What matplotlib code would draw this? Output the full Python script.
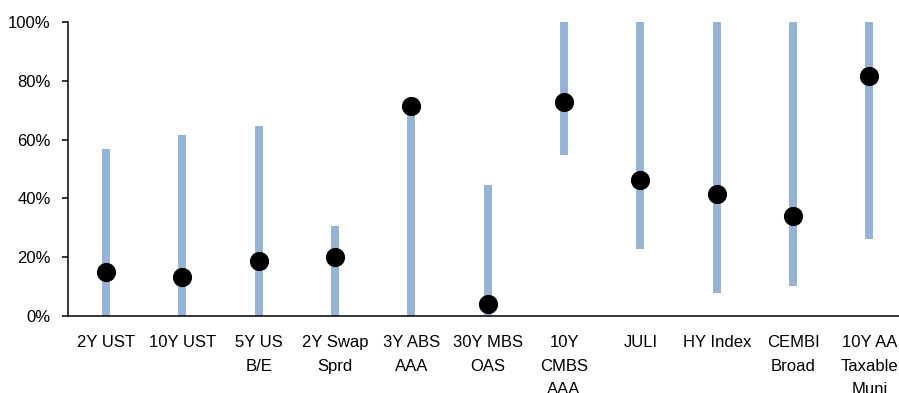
import matplotlib.pyplot as plt
from matplotlib.ticker import PercentFormatter

plt.rcParams['font.family'] = ['Liberation Sans', 'DejaVu Sans']

labels = ['2Y UST', '10Y UST', '5Y US\nB/E', '2Y Swap\nSprd', '3Y ABS\nAAA', '30Y MBS\nOAS',
          '10Y\nCMBS\nAAA', 'JULI', 'HY Index', 'CEMBI\nBroad', '10Y AA\nTaxable\nMuni']
range_low = [0, 0, 0, 0, 0, 0, 54.6, 22.7, 7.7, 10.2, 26.1]
range_high = [56.8, 61.6, 64.7, 30.6, 71.3, 44.6, 100, 100, 100, 100, 100]
current = [15.1, 13.2, 18.8, 20.2, 71.3, 4.1, 72.8, 46.3, 41.5, 34.1, 81.8]

fig = plt.figure(figsize=(8.99, 3.93), dpi=100)
ax = fig.add_axes([0.0756, 0.196, 0.934, 0.748])

x = list(range(len(labels)))
ax.vlines(x, range_low, range_high, color='#95B3D7', linewidth=5.7, zorder=2)
ax.plot(x, current, 'o', color='black', markersize=12.8, zorder=3, clip_on=False)

ax.set_xlim(-0.5, len(labels) - 0.5)
ax.set_ylim(0, 100)
ax.set_yticks(range(0, 101, 20))
ax.yaxis.set_major_formatter(PercentFormatter(decimals=0))
ax.set_xticks(x)
ax.set_xticklabels(labels, linespacing=1.68)

for side in ['top', 'right']:
    ax.spines[side].set_visible(False)
for side in ['left', 'bottom']:
    ax.spines[side].set_linewidth(1.1)
ax.tick_params(axis='y', length=4.5, width=1.1, pad=8, labelsize=12)
ax.tick_params(axis='x', length=0, pad=14, labelsize=12)

fig.savefig('out.png', dpi=100)
